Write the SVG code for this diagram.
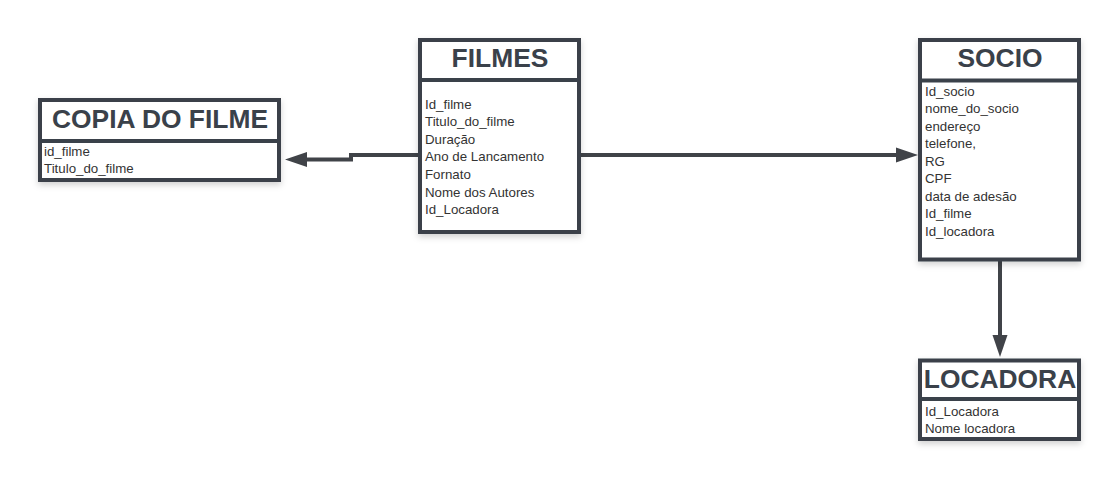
<svg xmlns="http://www.w3.org/2000/svg" width="1120" height="480" viewBox="0 0 1120 480">
  <style>
    .box { fill: #ffffff; stroke: #3a414a; stroke-width: 4; filter: url(#shadow); }
    .sep { stroke: #3a414a; stroke-width: 4; }
    .title { font-family: "Liberation Sans", Arial, sans-serif; font-weight: bold; font-size: 26.4px; fill: #3a414a; text-anchor: middle; }
    .row { font-family: "Liberation Sans", Arial, sans-serif; font-size: 13.3px; fill: #333333; }
    .conn { fill: none; stroke: #404348; stroke-width: 4; }
  </style>
  <defs>
    <filter id="shadow" x="-10%" y="-10%" width="120%" height="130%">
      <feDropShadow dx="0" dy="3" stdDeviation="3" flood-color="#000000" flood-opacity="0.18"/>
    </filter>
    <marker id="arrow" markerUnits="userSpaceOnUse" markerWidth="24" markerHeight="16" viewBox="0 -8 24 16" refX="1" refY="0" orient="auto">
      <path d="M0,-7.5 L22,0 L0,7.5 Z" fill="#404348"/>
    </marker>
  </defs>
  <rect width="1120" height="480" fill="#ffffff"/>

  <g id="connectors">
    <path class="conn" d="M420,155 H351 V159.5 H306" marker-end="url(#arrow)"/>
    <path class="conn" d="M580,155 H897" marker-end="url(#arrow)"/>
    <path class="conn" d="M1000,261 V336" marker-end="url(#arrow)"/>
  </g>

  <g id="copia-do-filme">
    <rect class="box" x="40" y="100" width="239" height="80"/>
    <line class="sep" x1="40" y1="141" x2="279" y2="141"/>
    <text class="title" x="160" y="127.5">COPIA DO FILME</text>
    <text class="row" x="44" y="155.5">id_filme</text>
    <text class="row" x="44" y="173">Titulo_do_filme</text>
  </g>

  <g id="filmes">
    <rect class="box" x="420" y="40" width="159" height="192"/>
    <line class="sep" x1="420" y1="80" x2="579" y2="80"/>
    <text class="title" x="500" y="66.5">FILMES</text>
    <text class="row" x="425" y="108.5">Id_filme</text>
    <text class="row" x="425" y="126.1">Titulo_do_filme</text>
    <text class="row" x="425" y="143.7">Duração</text>
    <text class="row" x="425" y="161.3">Ano de Lancamento</text>
    <text class="row" x="425" y="178.9">Fornato</text>
    <text class="row" x="425" y="196.5">Nome dos Autores</text>
    <text class="row" x="425" y="214.1">Id_Locadora</text>
  </g>

  <g id="socio">
    <rect class="box" x="920" y="40" width="159" height="219.5"/>
    <line class="sep" x1="920" y1="80.5" x2="1079" y2="80.5"/>
    <text class="title" x="1000" y="66.5">SOCIO</text>
    <text class="row" x="925" y="95.5">Id_socio</text>
    <text class="row" x="925" y="113">nome_do_socio</text>
    <text class="row" x="925" y="130.5">endereço</text>
    <text class="row" x="925" y="148">telefone,</text>
    <text class="row" x="925" y="165.5">RG</text>
    <text class="row" x="925" y="183">CPF</text>
    <text class="row" x="925" y="200.5">data de adesão</text>
    <text class="row" x="925" y="218">Id_filme</text>
    <text class="row" x="925" y="235.5">Id_locadora</text>
  </g>

  <g id="locadora">
    <rect class="box" x="920" y="360.5" width="159" height="78.5"/>
    <line class="sep" x1="920" y1="399" x2="1079" y2="399"/>
    <text class="title" x="1000" y="387.5">LOCADORA</text>
    <text class="row" x="925" y="415.5">Id_Locadora</text>
    <text class="row" x="925" y="433">Nome locadora</text>
  </g>
</svg>
